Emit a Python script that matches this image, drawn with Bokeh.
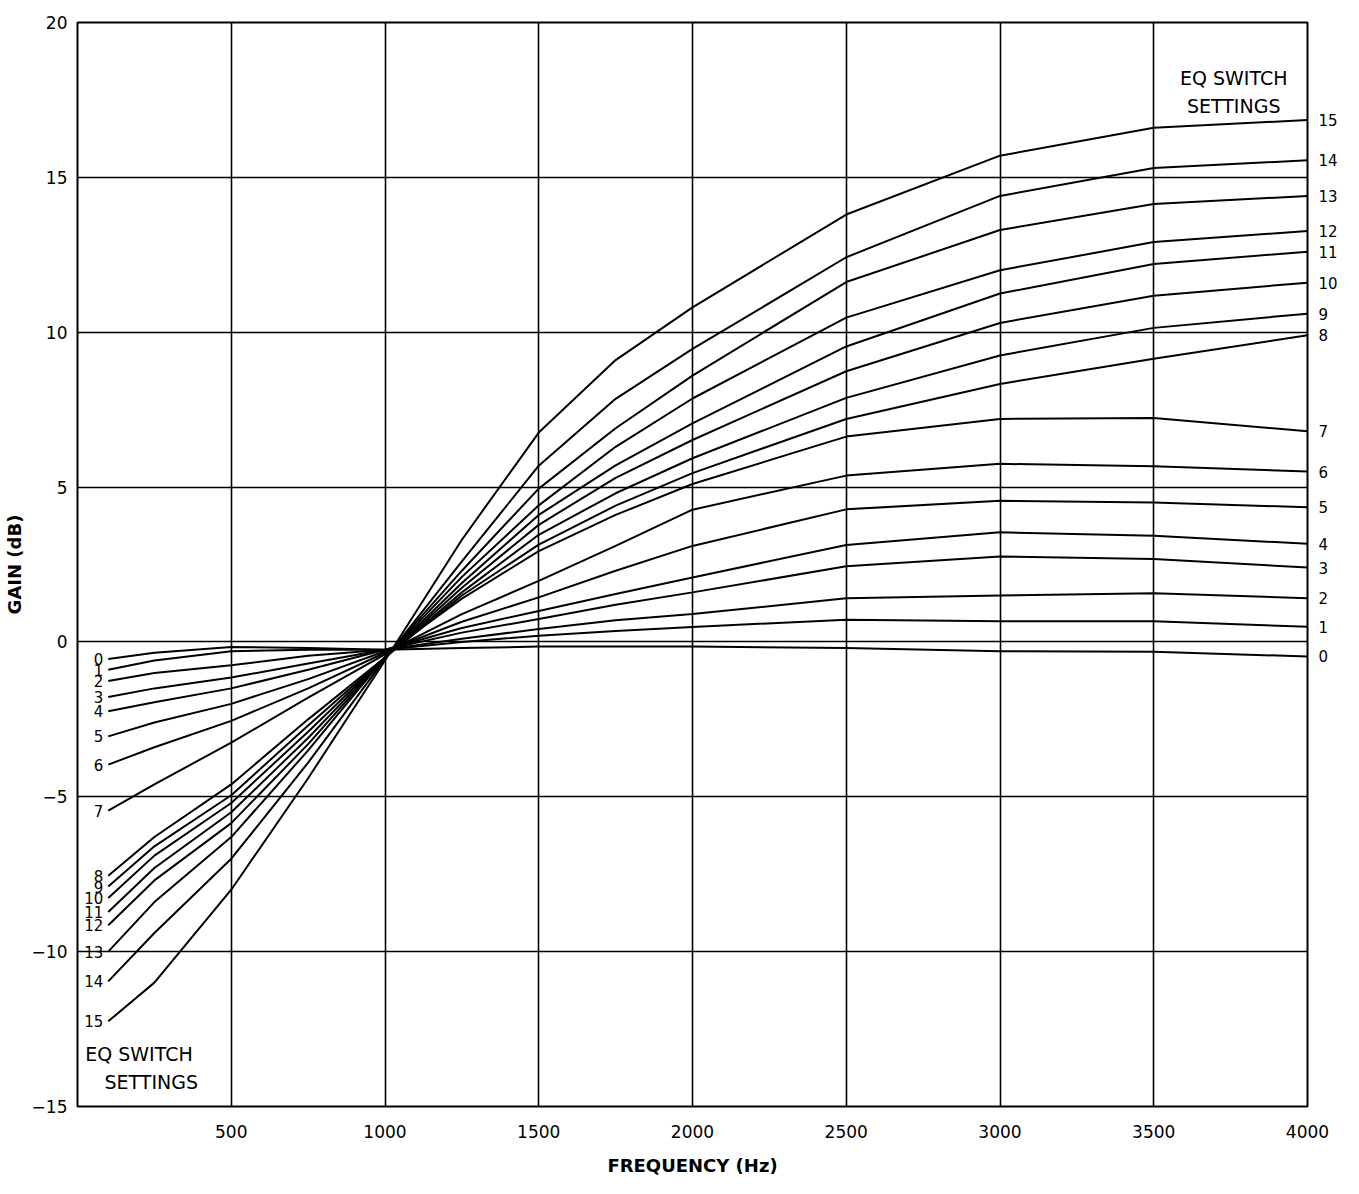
from bokeh.plotting import figure
from bokeh.models import Label, FixedTicker, Range1d, LinearAxis
from bokeh.embed import file_html
from bokeh.resources import INLINE

# Frequency points (Hz) at which the gain of each EQ switch setting was read
freq = [100, 250, 500, 750, 1000, 1250, 1500, 1750, 2000, 2500, 3000, 3500, 4000]

# Gain (dB) for each EQ switch setting
gain_0 = [-0.55, -0.35, -0.16, -0.2, -0.25, -0.2, -0.15, -0.15, -0.15, -0.2, -0.3, -0.32, -0.47]
gain_1 = [-0.9, -0.6, -0.3, -0.25, -0.25, 0.0, 0.2, 0.35, 0.48, 0.72, 0.67, 0.67, 0.49]
gain_2 = [-1.26, -1.0, -0.75, -0.45, -0.25, 0.1, 0.42, 0.7, 0.9, 1.41, 1.5, 1.57, 1.41]
gain_3 = [-1.78, -1.5, -1.15, -0.7, -0.25, 0.3, 0.74, 1.2, 1.6, 2.44, 2.76, 2.68, 2.4]
gain_4 = [-2.24, -1.95, -1.5, -0.9, -0.25, 0.45, 1.0, 1.55, 2.08, 3.13, 3.54, 3.43, 3.17]
gain_5 = [-3.05, -2.6, -2.0, -1.2, -0.3, 0.65, 1.44, 2.3, 3.1, 4.28, 4.56, 4.5, 4.35]
gain_6 = [-3.96, -3.4, -2.55, -1.5, -0.35, 0.9, 1.97, 3.1, 4.27, 5.37, 5.75, 5.67, 5.5]
gain_7 = [-5.45, -4.6, -3.25, -1.8, -0.4, 1.4, 2.93, 4.1, 5.1, 6.63, 7.2, 7.23, 6.8]
gain_8 = [-7.55, -6.3, -4.6, -2.5, -0.5, 1.5, 3.14, 4.4, 5.45, 7.2, 8.33, 9.14, 9.9]
gain_9 = [-7.9, -6.6, -4.95, -2.7, -0.5, 1.6, 3.46, 4.8, 5.93, 7.88, 9.25, 10.14, 10.6]
gain_10 = [-8.27, -6.9, -5.2, -2.9, -0.5, 1.75, 3.78, 5.3, 6.52, 8.74, 10.3, 11.18, 11.6]
gain_11 = [-8.72, -7.3, -5.5, -3.1, -0.5, 1.9, 4.1, 5.7, 7.06, 9.54, 11.25, 12.2, 12.6]
gain_12 = [-9.15, -7.7, -5.85, -3.3, -0.5, 2.1, 4.41, 6.3, 7.86, 10.47, 12.0, 12.91, 13.27]
gain_13 = [-10.0, -8.4, -6.3, -3.5, -0.5, 2.3, 4.95, 6.9, 8.6, 11.62, 13.3, 14.14, 14.4]
gain_14 = [-10.96, -9.4, -7.0, -3.9, -0.55, 2.6, 5.69, 7.85, 9.46, 12.42, 14.4, 15.3, 15.55]
gain_15 = [-12.25, -11.0, -8.0, -4.4, -0.6, 3.3, 6.76, 9.1, 10.8, 13.8, 15.7, 16.6, 16.85]

settings = ["0", "1", "2", "3", "4", "5", "6", "7", "8", "9", "10", "11", "12", "13", "14", "15"]
gains = [gain_0, gain_1, gain_2, gain_3, gain_4, gain_5, gain_6, gain_7,
         gain_8, gain_9, gain_10, gain_11, gain_12, gain_13, gain_14, gain_15]

x_ticks = [500, 1000, 1500, 2000, 2500, 3000, 3500, 4000]
y_ticks = [-15, -10, -5, 0, 5, 10, 15, 20]

FONT = "DejaVu Sans"

p = figure(width=1340, height=1178,
           x_range=Range1d(0, 4000), y_range=Range1d(-15, 20),
           output_backend="svg", toolbar_location=None,
           min_border_left=66, min_border_right=26,
           min_border_top=22, min_border_bottom=70)

p.background_fill_color = "white"
p.border_fill_color = "white"
p.outline_line_color = "black"
p.outline_line_width = 2

# axes
p.xaxis.ticker = FixedTicker(ticks=x_ticks)
p.yaxis.ticker = FixedTicker(ticks=y_ticks)
for ax in (p.xaxis, p.yaxis):
    ax.axis_line_color = None
    ax.major_tick_line_color = None
    ax.minor_tick_line_color = None
    ax.major_label_text_font = FONT
    ax.major_label_text_font_size = "17px"
    ax.major_label_text_color = "black"
    ax.axis_label_text_font = FONT
    ax.axis_label_text_font_size = "18px"
    ax.axis_label_text_font_style = "bold"
    ax.axis_label_text_color = "black"
p.xaxis.major_label_standoff = 12
p.yaxis.major_label_standoff = 4
p.xaxis.axis_label = "FREQUENCY (Hz)"
p.yaxis.axis_label = "GAIN (dB)"
p.xaxis.axis_label_standoff = 14
p.yaxis.axis_label_standoff = 4

# grid
p.xgrid.ticker = FixedTicker(ticks=[500, 1000, 1500, 2000, 2500, 3000, 3500])
p.ygrid.ticker = FixedTicker(ticks=[-10, -5, 0, 5, 10, 15])
for g in (p.xgrid, p.ygrid):
    g.grid_line_color = "black"
    g.grid_line_width = 1.6
    g.grid_line_alpha = 1.0

# curves
for s, g in zip(settings, gains):
    p.line(freq, g, line_color="black", line_width=2)

# left curve labels, at the start of each curve
for s, g in zip(settings, gains):
    p.add_layout(Label(x=freq[0], y=g[0], text=s, x_offset=-5,
                       text_align="right", text_baseline="middle",
                       text_font=FONT, text_font_size="15px",
                       text_color="black"))

# right curve labels: an axis whose ticks sit at the curve end values
end_vals = [g[-1] for g in gains]
right_axis = LinearAxis(ticker=FixedTicker(ticks=end_vals),
                        major_label_overrides={v: s for v, s in zip(end_vals, settings)})
right_axis.axis_line_color = None
right_axis.major_tick_line_color = None
right_axis.minor_tick_line_color = None
right_axis.major_label_standoff = 5
right_axis.major_label_text_font = FONT
right_axis.major_label_text_font_size = "15px"
right_axis.major_label_text_color = "black"
p.add_layout(right_axis, "right")

# "EQ SWITCH SETTINGS" captions
for (x, y, t) in [(3760, 18.2, "EQ SWITCH"), (3760, 17.3, "SETTINGS"),
                  (200, -13.3, "EQ SWITCH"), (240, -14.2, "SETTINGS")]:
    p.add_layout(Label(x=x, y=y, text=t, text_align="center",
                       text_baseline="middle", text_font=FONT,
                       text_font_size="19px", text_color="black"))

open("out.html", "w").write(file_html(p, INLINE))
